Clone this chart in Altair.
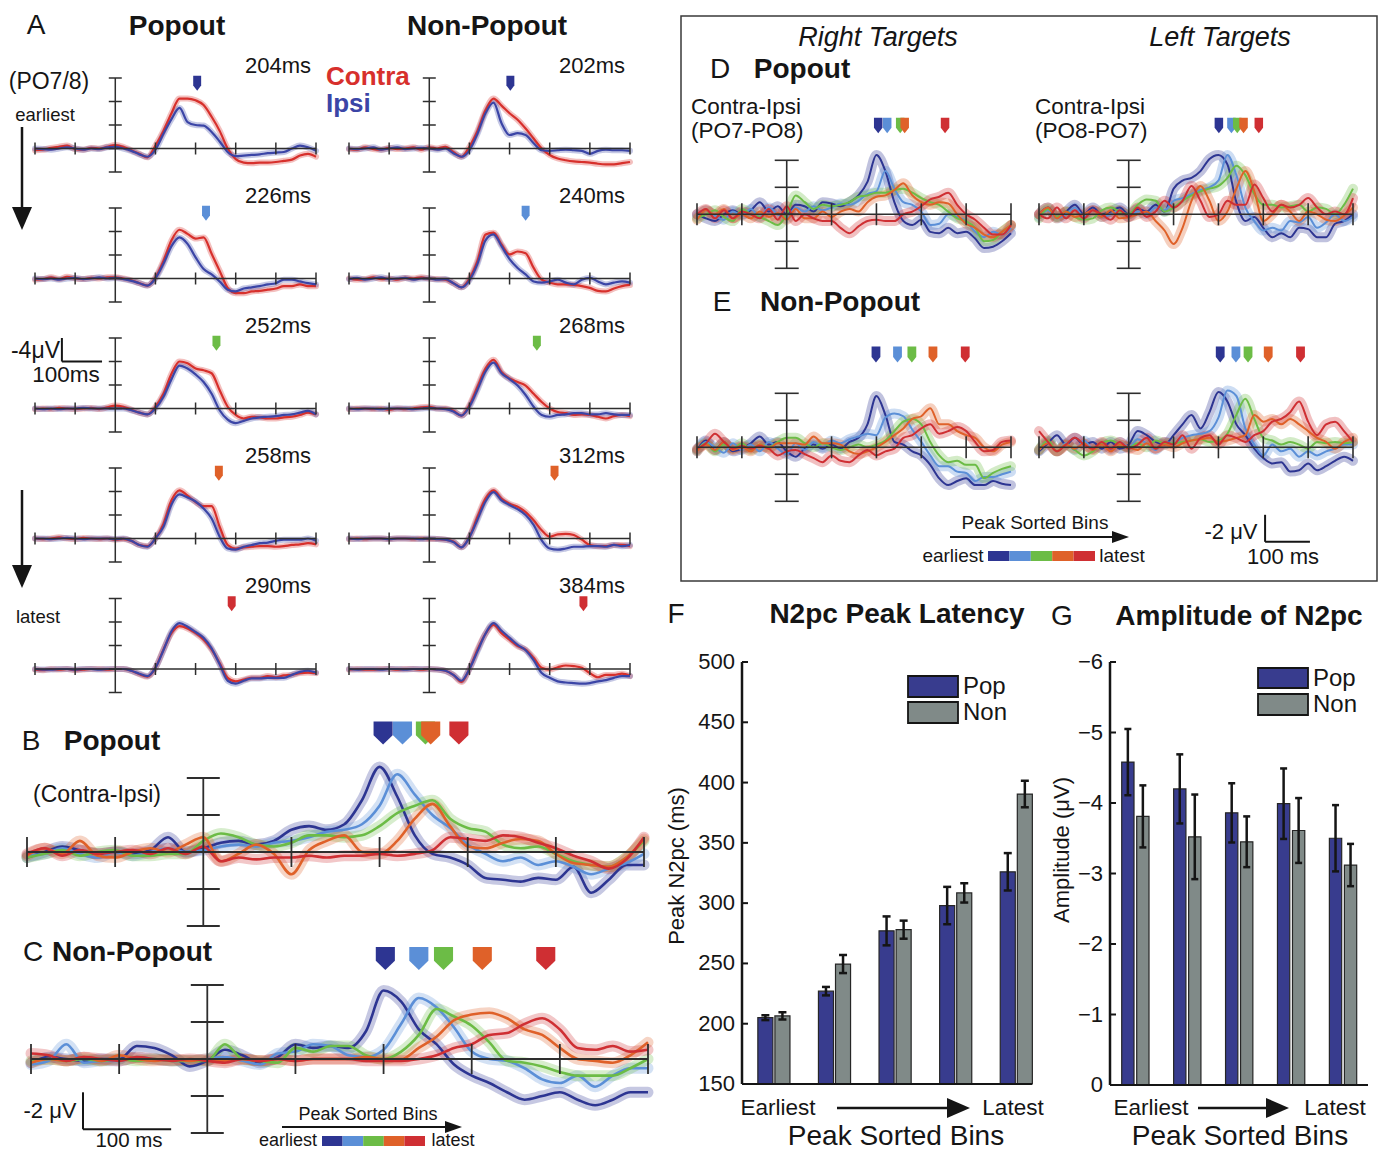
import altair as alt
import pandas as pd

# ---------------- data ----------------
TIME = [-200, -180, -160, -140, -120, -100, -80, -60, -40, -20, 0, 20, 40, 60, 80, 100, 120, 140,
        160, 180, 200, 220, 240, 260, 280, 300, 320, 340, 360, 380, 400, 420, 440, 460, 480, 500]

A1_POP_CONTRA = [0.3, 0.2, -0.1, -0.3, -0.5, 0.1, 0.2, -0.1, 0.0, -0.3, -0.6, -0.3, 0.3, 0.9, 1.5, -0.5, -3.0, -6.0, -8.5, -8.5, -8.2, -7.4, -5.4, -3.0, 0.0, 1.8, 2.4, 2.5, 2.4, 2.4, 2.3, 2.1, 1.9, 1.2, 0.9, 1.4]
A1_POP_IPSI = [0.0, 0.1, 0.2, 0.0, -0.2, 0.0, 0.2, 0.0, 0.1, -0.2, -0.3, 0.0, 0.4, 1.0, 1.4, 0.2, -2.5, -5.0, -6.9, -4.5, -4.0, -3.9, -2.8, -1.2, 0.6, 1.3, 1.2, 1.1, 1.0, 0.8, 0.7, 0.6, 0.0, -0.5, -0.2, 0.4]
A1_NON_CONTRA = [0.1, 0.2, -0.2, 0.1, 0.2, -0.1, 0.1, 0.0, -0.2, 0.2, -0.2, 0.0, -0.3, 0.6, 1.4, -0.3, -3.0, -6.5, -8.5, -7.3, -6.0, -4.9, -3.4, -1.7, 0.0, 1.1, 1.7, 2.0, 2.2, 2.3, 2.4, 2.6, 2.7, 2.7, 2.5, 2.3]
A1_NON_IPSI = [0.0, 0.1, 0.0, -0.2, 0.2, 0.0, -0.2, 0.1, 0.0, -0.1, 0.0, 0.2, 0.0, 0.8, 1.4, 0.3, -2.5, -6.0, -7.8, -4.3, -2.3, -2.6, -2.3, -0.9, 0.3, 0.4, 0.3, 0.2, 0.3, 0.4, 0.9, 0.4, 0.2, 0.3, 0.3, 0.4]
A2_POP_CONTRA = [0.2, 0.1, -0.2, 0.1, -0.3, 0.0, 0.1, -0.1, 0.0, -0.2, -0.2, 0.0, 0.3, 0.8, 1.2, -0.2, -3.0, -6.5, -8.3, -7.6, -6.8, -7.0, -4.2, -1.3, 1.6, 2.5, 2.5, 2.2, 2.1, 1.9, 1.7, 1.3, 1.3, 1.0, 1.3, 1.3]
A2_POP_IPSI = [0.0, 0.1, 0.0, 0.2, 0.0, -0.1, 0.1, 0.0, -0.2, 0.0, -0.1, 0.1, 0.4, 0.8, 1.2, 0.0, -2.5, -5.5, -7.0, -5.9, -3.6, -1.6, -0.7, 0.5, 1.9, 2.2, 1.7, 1.5, 1.3, 1.0, 0.8, 0.2, 0.2, 0.5, 0.8, 1.0]
A2_NON_CONTRA = [0.0, 0.2, 0.1, -0.2, 0.1, 0.0, 0.2, -0.1, 0.0, -0.2, 0.0, 0.1, 0.2, 0.8, 1.5, 0.0, -3.0, -7.5, -7.8, -5.8, -4.1, -4.6, -4.3, -1.8, 0.2, 0.7, 1.0, 1.0, 1.1, 1.3, 1.6, 2.1, 2.2, 1.7, 1.3, 1.1]
A2_NON_IPSI = [0.1, -0.1, 0.2, 0.0, -0.2, 0.1, 0.0, -0.1, 0.2, 0.0, 0.0, 0.2, 0.1, 0.8, 1.5, 0.3, -2.5, -6.5, -7.5, -5.5, -3.3, -1.8, -0.7, 0.5, 0.7, 0.5, 0.2, 0.7, 1.0, 0.2, -0.1, 0.5, 1.0, 0.7, 0.5, 0.7]
A3_POP_CONTRA = [0.1, 0.0, 0.1, -0.1, 0.0, 0.1, 0.0, -0.1, 0.1, -0.2, -0.5, -0.3, 0.2, 0.7, 1.0, -0.3, -2.5, -5.9, -8.0, -7.7, -6.8, -6.5, -6.0, -3.1, -0.3, 1.1, 1.7, 1.4, 1.5, 1.7, 1.7, 1.5, 1.4, 1.1, 0.7, 1.0]
A3_POP_IPSI = [0.0, 0.1, 0.0, 0.1, 0.0, 0.0, -0.1, 0.0, 0.0, 0.0, 0.0, 0.0, 0.3, 0.7, 1.0, 0.0, -2.0, -5.0, -7.3, -6.8, -5.8, -4.5, -2.5, 0.3, 1.9, 2.5, 2.1, 1.7, 1.5, 1.4, 1.3, 1.1, 1.0, 0.7, 0.4, 1.0]
A3_NON_CONTRA = [0.1, 0.0, 0.0, 0.1, 0.0, 0.2, 0.0, 0.1, 0.0, -0.2, -0.3, 0.0, 0.0, 0.4, 1.2, -0.6, -3.7, -6.8, -8.3, -6.2, -5.1, -4.5, -3.9, -2.5, -1.1, 0.0, 0.6, 0.8, 1.1, 1.0, 1.1, 1.4, 1.7, 1.3, 1.1, 1.3]
A3_NON_IPSI = [0.0, 0.1, 0.0, 0.0, 0.1, 0.0, 0.0, 0.0, 0.1, 0.0, -0.1, 0.0, 0.1, 0.5, 1.2, -0.3, -3.2, -6.3, -7.8, -6.0, -5.0, -3.9, -2.3, -0.3, 1.1, 1.4, 1.1, 1.0, 0.8, 0.8, 1.0, 1.0, 0.8, 1.0, 1.1, 1.1]
A4_POP_CONTRA = [0.0, 0.1, 0.0, -0.2, 0.0, 0.1, -0.1, 0.0, 0.1, 0.0, 0.2, 0.1, 0.4, 1.1, 1.3, 0.0, -2.5, -6.5, -8.2, -7.3, -6.2, -5.5, -5.5, -2.0, 1.1, 1.7, 1.5, 1.4, 1.3, 1.3, 1.4, 1.3, 1.1, 1.0, 0.8, 1.0]
A4_POP_IPSI = [0.0, 0.0, 0.1, 0.0, -0.1, 0.0, 0.1, 0.0, 0.0, 0.0, 0.1, 0.0, 0.4, 1.1, 1.4, 0.0, -2.0, -5.8, -7.5, -7.0, -6.3, -5.1, -3.4, -0.3, 1.7, 1.9, 1.4, 1.1, 0.8, 0.7, 0.4, 0.2, 0.2, 0.2, 0.0, 0.4]
A4_NON_CONTRA = [0.1, 0.0, 0.1, 0.0, 0.0, 0.1, 0.0, 0.0, 0.1, 0.0, 0.1, 0.1, 0.2, 0.5, 1.5, -0.3, -3.7, -6.8, -8.2, -6.8, -5.9, -5.4, -4.5, -3.1, -1.4, -0.3, -0.7, -0.8, -0.6, 0.2, 1.1, 1.3, 1.3, 1.1, 1.1, 1.3]
A4_NON_IPSI = [0.0, 0.1, 0.0, 0.0, 0.0, 0.1, 0.0, 0.0, 0.0, 0.1, 0.0, 0.1, 0.2, 0.6, 1.5, -0.2, -3.2, -6.3, -7.9, -6.5, -5.7, -5.0, -4.0, -2.3, 0.3, 1.7, 1.9, 1.7, 1.4, 1.4, 1.3, 1.3, 1.4, 1.1, 1.3, 1.1]
A5_POP_CONTRA = [0.1, 0.2, 0.0, 0.1, 0.0, 0.2, 0.1, 0.0, 0.0, 0.1, 0.0, 0.0, 0.3, 0.9, 1.3, -0.2, -3.3, -6.1, -7.3, -6.9, -6.1, -5.0, -3.3, -1.0, 1.5, 2.1, 1.8, 1.5, 1.5, 1.2, 1.4, 1.1, 1.0, 0.7, 0.6, 0.7]
A5_POP_IPSI = [0.0, 0.1, 0.1, 0.0, 0.0, 0.1, 0.0, 0.0, 0.1, 0.0, 0.0, 0.0, 0.3, 0.8, 1.2, -0.2, -3.2, -6.4, -7.8, -7.2, -6.3, -5.3, -3.5, -0.8, 2.0, 2.5, 2.0, 1.6, 1.6, 1.5, 1.5, 1.5, 1.0, 0.5, 0.3, 0.6]
A5_NON_CONTRA = [0.1, 0.0, 0.1, 0.1, 0.0, 0.0, 0.1, 0.0, 0.0, 0.1, 0.0, 0.1, 0.3, 1.0, 2.2, 0.0, -3.3, -6.0, -7.5, -6.1, -5.0, -3.9, -3.3, -1.9, -0.2, 0.1, -0.3, -0.6, -0.5, -0.2, 0.7, 1.4, 1.0, 1.0, 0.8, 1.2]
A5_NON_IPSI = [0.0, 0.1, 0.0, 0.0, 0.1, 0.0, 0.0, 0.1, 0.0, 0.0, 0.0, 0.1, 0.3, 1.0, 2.0, 0.0, -3.0, -6.0, -7.8, -6.5, -5.3, -4.1, -3.2, -1.5, 0.7, 1.5, 2.1, 2.3, 2.4, 2.5, 2.4, 2.1, 1.9, 1.5, 1.2, 1.2]

B_BIN1 = [0.3, 0.0, -0.3, -0.1, 0.1, 0.0, 0.1, -0.1, -0.8, 0.0, -0.2, -0.5, -0.6, -0.4, -0.6, -1.2, -1.4, -1.2, -1.5, -2.8, -4.6, -3.0, -0.9, 0.1, 0.3, 0.7, 1.4, 1.5, 1.6, 1.4, 1.5, 0.8, 2.2, 1.5, 0.7, 0.7]
B_BIN2 = [0.2, 0.1, -0.2, 0.1, 0.3, 0.0, 0.2, 0.0, -0.2, 0.0, -0.1, -0.3, -0.4, -0.3, -0.5, -0.6, -0.8, -1.1, -1.2, -1.5, -2.5, -4.2, -3.1, -2.0, -1.3, -0.4, 0.1, 0.5, 0.3, 0.7, 0.5, 0.8, 1.2, 0.9, 0.6, 0.1]
B_BIN3 = [0.3, 0.1, -0.1, 0.2, 0.0, -0.1, 0.2, 0.2, 0.1, 0.1, -0.6, -1.0, -0.8, -0.4, -0.3, -0.5, -0.9, -0.9, -0.8, -0.9, -1.4, -2.1, -2.5, -2.8, -1.8, -1.3, -1.1, -0.4, -0.2, -0.3, 0.1, 0.5, 0.7, 0.8, 0.3, -0.6]
B_BIN4 = [0.2, -0.2, 0.1, -0.6, 0.2, 0.3, 0.0, -0.2, 0.0, -0.4, -0.8, 0.5, 0.1, -0.4, 0.1, 1.2, -0.1, -0.6, -0.9, 0.0, 0.1, -0.6, -1.8, -2.6, -1.4, -0.3, -0.2, -0.5, -0.7, -0.6, 0.1, 0.6, 0.7, 0.8, 0.3, -0.7]
B_BIN5 = [0.1, -0.2, 0.2, -0.1, 0.1, 0.0, -0.1, 0.1, -0.2, 0.1, -0.3, 0.5, 0.3, 0.4, 0.3, 0.3, 0.2, 0.3, 0.2, 0.2, 0.1, 0.2, 0.1, -0.1, -0.8, -0.7, -0.6, -0.9, -0.8, -0.5, -0.2, 0.2, 0.5, 0.9, 0.4, -0.8]

C_BIN1 = [0.2, -0.1, 0.0, 0.1, 0.0, 0.0, -0.7, -0.6, -0.2, 0.4, 0.1, -0.5, -0.2, 0.2, -0.1, -0.8, -0.6, -0.7, -0.6, -1.5, -3.7, -3.1, -1.6, -0.8, 0.3, 0.9, 1.3, 1.8, 2.2, 2.0, 1.8, 2.2, 2.5, 2.2, 1.8, 1.8]
C_BIN2 = [0.3, 0.1, -0.8, 0.2, 0.1, 0.1, -0.1, 0.0, 0.1, 0.1, 0.0, -0.1, 0.1, 0.3, -0.3, -0.4, -0.8, -0.7, -0.2, -0.1, -0.5, -1.9, -3.3, -2.8, -1.7, -0.4, 0.0, 0.1, 0.5, 1.1, 1.3, 0.9, 1.5, 0.9, 0.5, 0.5]
C_BIN3 = [0.1, 0.0, 0.1, 0.0, 0.1, 0.0, 0.1, 0.0, 0.1, 0.1, 0.1, -0.8, 0.0, 0.1, 0.2, -0.6, -0.4, -0.7, -0.7, -0.2, 0.0, -0.4, -1.3, -2.7, -2.3, -1.8, -0.9, 0.1, 0.2, 0.4, 0.7, 0.9, 0.9, 0.9, 0.5, 0.0]
C_BIN4 = [0.2, 0.0, 0.1, -0.1, 0.1, -0.2, 0.0, 0.1, 0.0, 0.1, 0.0, 0.1, 0.0, 0.1, 0.0, 0.1, 0.0, 0.0, 0.0, -0.1, 0.0, 0.0, -0.6, -1.2, -2.1, -2.4, -2.5, -2.2, -1.6, -1.3, -0.6, 0.0, 0.1, 0.2, -0.2, -0.9]
C_BIN5 = [-0.3, -0.2, 0.1, -0.1, 0.0, 0.1, -0.1, 0.0, 0.1, 0.0, 0.1, 0.2, 0.0, 0.1, 0.0, 0.1, 0.0, 0.0, 0.0, 0.1, 0.1, 0.1, 0.0, -0.2, -0.6, -0.8, -1.3, -1.4, -1.9, -2.2, -1.6, -0.6, -0.5, -0.7, -0.4, -0.5]

D_R_BIN1 = [0.0, 0.3, 0.5, 0.0, -0.3, 0.0, -0.3, -0.9, -0.2, -0.6, 0.0, -0.7, -0.6, -0.2, -0.9, -0.8, -0.6, -0.9, -1.4, -2.4, -4.4, -3.2, -0.9, 0.5, 0.8, 0.4, 1.3, 1.4, 1.0, 1.4, 1.3, 1.8, 2.5, 2.4, 2.0, 1.4]
D_R_BIN2 = [0.2, -0.3, 0.1, 0.4, -0.2, 0.1, -0.4, 0.2, -0.5, 0.0, 0.3, -0.5, -0.2, -0.6, -0.3, -0.5, -0.8, -0.7, -1.0, -1.5, -1.7, -3.2, -1.9, -0.9, -0.7, -0.2, 0.8, 0.7, 0.0, 0.2, 0.5, 1.3, 1.7, 1.3, 1.5, 1.0]
D_R_BIN3 = [0.3, 0.0, -0.3, 0.2, 0.5, -0.4, 0.0, 0.2, 0.5, 0.8, 0.0, -1.4, -0.9, -0.4, -0.7, -0.6, -0.7, -0.9, -1.3, -1.4, -1.6, -1.6, -1.8, -1.9, -1.6, -1.2, -0.9, -0.7, -0.2, 0.3, 0.5, 1.0, 2.0, 1.9, 1.3, 0.8]
D_R_BIN4 = [0.4, -0.3, 0.0, -0.4, 0.3, 0.0, 0.3, -0.2, 0.2, -0.1, 0.4, -0.4, 0.3, 0.3, -0.2, 0.2, -0.2, -0.4, -0.2, -0.9, -1.3, -1.4, -1.8, -2.3, -1.4, -0.9, -0.7, -0.9, -0.8, 0.0, 0.7, 1.0, 1.5, 1.7, 1.3, 0.8]
D_R_BIN5 = [0.0, -0.4, 0.3, -0.3, 0.3, -0.2, 0.0, 0.3, -0.4, 0.4, -0.6, 0.5, 0.0, 0.3, 0.5, 0.5, 1.0, 1.4, 0.9, 0.5, 0.4, 0.5, 0.5, 0.0, -0.2, -0.6, -1.1, -1.3, -1.6, -0.7, 0.0, 0.4, 1.0, 1.5, 1.5, 0.8]

D_L_BIN1 = [0.0, -0.5, 0.2, -0.2, -0.7, 0.0, -0.5, 0.0, -0.2, -0.5, 0.0, -0.4, -0.2, -0.7, -0.2, -1.9, -2.5, -2.7, -3.2, -4.1, -4.4, -3.7, -0.9, 0.5, 0.2, 1.0, 1.7, 1.4, 1.7, 1.0, 1.1, 1.7, 1.7, 0.7, 0.5, 0.0]
D_L_BIN2 = [0.2, -0.3, 0.3, 0.0, -0.5, 0.2, -0.3, 0.2, 0.0, -0.3, 0.2, -0.2, 0.0, -0.5, -0.3, -1.0, -1.2, -1.5, -1.8, -2.0, -2.5, -4.4, -2.9, -0.5, 0.5, 1.2, 1.0, 1.2, 0.5, 0.6, 0.2, 1.0, 0.6, 0.0, 0.5, 0.2]
D_L_BIN3 = [0.3, -0.4, 0.2, -0.2, 0.2, 0.4, 0.3, -0.3, -0.5, -0.2, 0.0, -0.7, -1.1, -1.0, -0.2, -0.5, -1.0, -1.4, -1.7, -1.9, -2.1, -2.7, -3.6, -2.9, -1.5, -0.7, -0.7, -0.5, -0.6, -0.7, -0.2, -0.5, -0.4, 0.0, -0.7, -1.9]
D_L_BIN4 = [0.0, -0.5, 0.3, -0.2, 0.2, 0.0, -0.3, 0.2, -0.3, 0.3, 0.2, 0.0, -0.2, 0.5, 1.2, 2.2, 1.0, -1.0, -2.1, -1.0, 0.5, -0.2, -1.9, -3.2, -1.7, 0.5, 0.0, -0.7, -0.2, 0.5, -0.2, 0.0, 0.4, 0.5, 0.1, -0.5]
D_L_BIN5 = [0.0, 0.3, -0.5, 0.3, -0.3, 0.3, -0.3, 0.0, 0.4, -0.3, 0.2, -0.5, 0.2, -0.2, -1.0, -0.5, -1.0, -2.1, -1.0, 0.2, 0.0, -1.0, -0.7, -0.7, -2.2, -1.2, -0.2, -0.7, -0.5, -0.7, -1.2, -0.5, 0.0, -0.2, 0.0, -1.2]

E_R_BIN1 = [0.2, -0.5, 0.2, -0.4, 0.3, 0.1, -0.3, -0.8, -0.2, -0.4, 0.3, 0.7, 0.1, -0.2, 0.1, -0.2, 0.1, -0.4, -0.7, -1.7, -3.8, -2.4, -0.4, -0.2, 0.3, 0.6, 1.3, 2.3, 2.8, 2.5, 2.3, 2.8, 2.8, 2.5, 2.7, 2.8]
E_R_BIN2 = [0.3, -0.4, 0.0, 0.4, -0.3, 0.2, -0.2, 0.3, -0.4, 0.1, 0.5, -0.3, 0.2, -0.4, 0.0, -0.5, -0.3, -0.6, -0.8, -1.0, -0.9, -2.2, -2.5, -2.3, -1.3, -0.4, 0.6, 1.4, 1.4, 1.8, 1.9, 2.5, 2.2, 2.2, 2.0, 1.8]
E_R_BIN3 = [0.2, -0.3, 0.3, -0.2, 0.1, -0.3, 0.2, -0.2, 0.0, -0.4, -0.7, -0.7, -0.3, 0.0, -0.3, 0.0, 0.2, 0.0, -0.2, 0.0, -0.2, -0.5, -1.2, -1.9, -2.1, -1.7, -0.4, 0.6, 1.1, 1.0, 1.3, 1.3, 2.3, 1.9, 1.6, 1.4]
E_R_BIN4 = [0.3, -0.2, 0.2, -0.4, 0.2, 0.0, 0.3, -0.2, 0.1, -0.3, -0.3, -0.3, -0.2, -0.8, -0.3, -0.3, -0.2, 0.3, 0.5, 0.3, 0.0, -0.4, -0.9, -1.4, -2.1, -2.3, -2.9, -1.7, -1.7, -1.2, -0.9, -0.7, 0.0, 0.3, -0.2, -0.4]
E_R_BIN5 = [0.1, -0.3, -1.0, -0.4, 0.1, -0.1, 0.1, -0.1, 0.1, 0.6, 0.3, 0.2, 0.5, 0.8, 1.1, 0.6, 1.0, 1.1, 0.6, 0.2, 0.6, 0.3, 0.1, -0.7, -0.9, -1.4, -1.7, -1.0, -1.2, -1.5, -1.2, -0.4, 0.3, 0.2, -0.4, -0.5]

E_L_BIN1 = [0.3, -0.3, -0.9, -0.2, -0.7, -0.2, -0.4, 0.1, -0.4, 0.1, -0.2, -1.2, -0.9, -0.4, -0.2, -0.9, -1.7, -2.4, -1.4, -2.6, -4.1, -3.4, -1.7, -0.9, 0.1, 0.8, 1.2, 1.1, 1.8, 1.7, 1.2, 1.7, 1.4, 1.0, 0.7, 1.0]
E_L_BIN2 = [0.2, -0.4, 0.3, -0.3, 0.2, -0.5, 0.1, -0.3, 0.2, -0.4, 0.0, -0.6, -0.3, 0.2, -0.4, -0.3, -0.7, -0.9, -1.0, -1.2, -2.2, -4.2, -3.8, -1.4, -0.2, 0.6, -0.2, 0.3, 0.1, 0.7, 0.3, 0.6, 0.3, 0.1, -0.2, -0.2]
E_L_BIN3 = [0.2, -0.5, 0.3, -0.2, 0.2, 0.6, 0.3, -0.3, -0.5, -0.2, 0.0, -0.3, 0.0, -0.5, -0.3, -0.3, -0.4, -0.5, -0.6, -0.4, -0.5, -1.0, -2.4, -3.6, -2.1, -0.7, -0.5, -0.2, -0.4, -0.2, 0.1, -0.4, -0.3, -0.4, -0.3, -0.4]
E_L_BIN4 = [0.2, -0.3, 0.3, -0.2, 0.1, -0.3, 0.2, -0.2, 0.3, -0.2, 0.0, 0.2, -0.3, 0.1, -0.2, 0.0, -0.3, -0.5, -0.6, -0.7, -0.4, -0.5, -0.7, -0.9, -2.4, -1.9, -2.1, -1.7, -2.1, -1.7, -1.2, -0.7, -0.4, 0.1, -0.4, -0.7]
E_L_BIN5 = [-1.2, -0.4, 0.3, -0.2, -0.7, -0.2, 0.1, -0.4, 0.1, -0.4, 0.1, -0.2, -0.7, 0.1, -0.4, -0.2, -0.9, 0.1, -0.7, -0.9, -0.2, -0.9, -0.7, -0.4, -0.9, -1.2, -1.9, -2.1, -2.6, -3.4, -1.9, -0.9, -1.7, -1.9, -1.2, -0.4]

A_LAT_POP = [204, 226, 252, 258, 290]
A_LAT_NON = [202, 240, 268, 312, 384]
B_LAT = [204, 226, 252, 258, 290]
C_LAT = [202, 240, 268, 312, 384]
DR_LAT = [204, 224, 253, 263, 353]
DL_LAT = [201, 229, 242, 256, 290]
ER_LAT = [199, 247, 279, 326, 398]
EL_LAT = [204, 239, 266, 311, 383]

F_POP = [205, 227, 277, 298, 326]
F_POP_ERR = [2, 3.5, 12, 15.5, 15.5]
F_NON = [206.5, 249.5, 278, 308.5, 390.5]
F_NON_ERR = [3, 7.5, 7.5, 8, 11]
G_POP = [-4.58, -4.20, -3.86, -3.99, -3.50]
G_POP_ERR = [0.47, 0.49, 0.42, 0.50, 0.47]
G_NON = [-3.81, -3.52, -3.45, -3.61, -3.12]
G_NON_ERR = [0.44, 0.60, 0.36, 0.46, 0.30]
F_TICKS = [150, 200, 250, 300, 350, 400, 450, 500]
G_TICKS = [-6, -5, -4, -3, -2, -1, 0]

BINS = ["b1", "b2", "b3", "b4", "b5"]
BIN_COLORS = ["#2d3592", "#5b8fd7", "#6cbc46", "#df6129", "#cf2f33"]
CONTRA_C, IPSI_C = "#d7302c", "#3b45a6"
POP_C, NON_C = "#383c8e", "#808a88"

# ---------------- helpers ----------------
OX, OY = 8, 8
FONT = "Liberation Sans"
INK = "#151515"
AXC = "#2e2e2e"
XTICKS = [-200, -100, 100, 200, 300, 400, 500]
CSCALE = alt.Scale(domain=["Contra", "Ipsi"] + BINS + ["Pop", "Non"],
                   range=[CONTRA_C, IPSI_C] + BIN_COLORS + [POP_C, NON_C])
ONE = pd.DataFrame({"k": [0]})

PENT_A = "M-0.53,-1L0.53,-1L0.53,0.3L0,1L-0.53,0.3Z"
PENT_B = "M-0.83,-1L0.83,-1L0.83,0.2L0,1L-0.83,0.2Z"
PENT_D = "M-0.55,-1L0.55,-1L0.55,0.3L0,1L-0.55,0.3Z"
HEAD_DOWN = "M-0.87,-1L0.87,-1L0,1Z"
HEAD_R_BIG = "M-1,-0.87L1,0L-1,0.87Z"
HEAD_R_SMALL = "M-1,-0.7L1,0L-1,0.7Z"


def col(field="s"):
    return alt.Color(f"{field}:N", scale=CSCALE, legend=None)


def lin(domain, r0, r1):
    return alt.Scale(domain=domain, range=[r0, r1], nice=False, zero=False)


def T(text, x, y, size, weight="normal", style="normal", align="center", color=INK, angle=0):
    return alt.Chart(ONE).mark_text(
        text=text, font=FONT, fontSize=size, fontWeight=weight, fontStyle=style,
        align=align, baseline="middle", color=color, angle=angle
    ).encode(x=alt.value(x - OX), y=alt.value(y - OY))


def hrule(x0, x1, y, w=2.0):
    return alt.Chart(ONE).mark_rule(color=INK, strokeWidth=w).encode(
        x=alt.value(x0 - OX), x2=alt.value(x1 - OX), y=alt.value(y - OY))


def head(x, y, shape, size):
    return alt.Chart(ONE).mark_point(shape=shape, filled=True, size=size, opacity=1,
                                     color=INK, strokeWidth=0).encode(
        x=alt.value(x - OX), y=alt.value(y - OY))


def harrow(x0, x1, y, hl, shape, w=2.0):
    return [hrule(x0, x1 - hl * 0.7, y, w), head(x1 - hl / 2, y, shape, hl * hl)]


def varrow(x, y0, y1, hl, shape, w=2.5):
    r = alt.Chart(ONE).mark_rule(color=INK, strokeWidth=w).encode(
        x=alt.value(x - OX), y=alt.value(y0 - OY), y2=alt.value(y1 - hl * 0.7 - OY))
    return [r, head(x, y1 - hl / 2, shape, hl * hl)]


def erp(series, x0, x1, ytop, ybot, vtop, vbot, yticks, xtl, ytl, band_w, line_w, ax_w,
        markers=None, label=None, segments=None, band_op=0.3):
    xs = lin([-200, 500], x0 - OX, x1 - OX)
    ys = lin([vtop, vbot], ytop - OY, ybot - OY)

    def X(f):
        return alt.X(f"{f}:Q", scale=xs, axis=None)

    def Y(f):
        return alt.Y(f"{f}:Q", scale=ys, axis=None)

    df = pd.DataFrame([{"t": t, "v": v, "s": name}
                       for name, vals in series for t, v in zip(TIME, vals)])
    base = alt.Chart(df)
    enc = dict(x=X("t"), y=Y("v"), color=col(), detail="s:N")
    layers = [
        base.mark_line(strokeWidth=band_w, opacity=band_op, interpolate="monotone",
                       strokeCap="round", strokeJoin="round").encode(**enc),
        base.mark_line(strokeWidth=line_w, interpolate="monotone").encode(**enc),
        alt.Chart(pd.DataFrame({"x": [0], "y": [vtop], "y2": [vbot]})).mark_rule(
            color=AXC, strokeWidth=ax_w).encode(x=X("x"), y=Y("y"), y2=alt.Y2("y2")),
        alt.Chart(pd.DataFrame({"x": [-200], "x2": [500], "y": [0]})).mark_rule(
            color=AXC, strokeWidth=ax_w).encode(x=X("x"), x2=alt.X2("x2"), y=Y("y")),
        alt.Chart(pd.DataFrame({"x": [0] * len(yticks), "y": yticks})).mark_tick(
            orient="horizontal", size=ytl, thickness=ax_w, color=AXC, opacity=1).encode(x=X("x"), y=Y("y")),
        alt.Chart(pd.DataFrame({"x": XTICKS, "y": [0] * len(XTICKS)})).mark_tick(
            orient="vertical", size=xtl, thickness=ax_w, color=AXC, opacity=1).encode(x=X("x"), y=Y("y")),
    ]
    if markers:
        lat, bins, mv, shape, msize = markers
        layers.append(alt.Chart(pd.DataFrame({"t": lat, "s": bins, "v": [mv] * len(lat)})).mark_point(
            shape=shape, filled=True, size=msize, opacity=1, strokeWidth=0).encode(
            x=X("t"), y=Y("v"), color=col()))
    if label:
        txt, lv = label
        layers.append(alt.Chart(pd.DataFrame({"t": [500], "v": [lv], "txt": [txt]})).mark_text(
            font=FONT, fontSize=22, align="right", baseline="middle", dx=-5, color=INK).encode(
            x=X("t"), y=Y("v"), text="txt:N"))
    if segments:
        layers.append(alt.Chart(pd.DataFrame(segments)).mark_rule(color=INK, strokeWidth=2).encode(
            x=X("x"), x2=alt.X2("x2"), y=Y("y"), y2=alt.Y2("y2")))
    return alt.layer(*layers)


def colorbar(x0, x1, y0, y1):
    xs = lin([0, 5], x0 - OX, x1 - OX)
    df = pd.DataFrame({"i": list(range(5)), "s": BINS})
    return alt.Chart(df).transform_calculate(j="datum.i + 1").mark_rect().encode(
        x=alt.X("i:Q", scale=xs, axis=None), x2=alt.X2("j"),
        y=alt.value(y0 - OY), y2=alt.value(y1 - OY), color=col())


def bar_panel(pop, perr, non, nerr, dom, y0px, y1px, bx0, bx1, pin, pout, opin,
              axis_x, base_x1, base_val, ticks, labels, cap):
    rows = []
    for i in range(5):
        rows.append({"bin": str(i + 1), "cond": "Pop", "val": pop[i], "err": perr[i]})
        rows.append({"bin": str(i + 1), "cond": "Non", "val": non[i], "err": nerr[i]})
    df = pd.DataFrame(rows)
    xs = alt.Scale(type="band", domain=["1", "2", "3", "4", "5"], range=[bx0 - OX, bx1 - OX],
                   paddingInner=pin, paddingOuter=pout)
    xo = alt.Scale(type="band", domain=["Pop", "Non"], paddingInner=opin, paddingOuter=0)
    ys = lin(dom, y0px - OY, y1px - OY)
    X = alt.X("bin:N", scale=xs, axis=None)
    XO = alt.XOffset("cond:N", scale=xo)

    def Y(f):
        return alt.Y(f"{f}:Q", scale=ys, axis=None)

    base = alt.Chart(df).transform_calculate(lo="datum.val - datum.err", hi="datum.val + datum.err")
    layers = [
        base.mark_bar(stroke="#262626", strokeWidth=1.2).encode(
            x=X, xOffset=XO, y=Y("val"), y2=alt.datum(base_val), color=col("cond")),
        base.mark_rule(color=INK, strokeWidth=2.5).encode(x=X, xOffset=XO, y=Y("lo"), y2=alt.Y2("hi")),
        base.mark_tick(orient="horizontal", size=cap, thickness=2.5, color=INK, opacity=1).encode(
            x=X, xOffset=XO, y=Y("lo")),
        base.mark_tick(orient="horizontal", size=cap, thickness=2.5, color=INK, opacity=1).encode(
            x=X, xOffset=XO, y=Y("hi")),
        alt.Chart(pd.DataFrame({"a": [dom[0]], "b": [dom[1]]})).mark_rule(color=INK, strokeWidth=2.5).encode(
            x=alt.value(axis_x - OX), y=Y("a"), y2=alt.Y2("b")),
        alt.Chart(pd.DataFrame({"a": [base_val]})).mark_rule(color=INK, strokeWidth=2).encode(
            x=alt.value(axis_x - OX), x2=alt.value(base_x1 - OX), y=Y("a")),
        alt.Chart(pd.DataFrame({"v": ticks})).mark_rule(color=INK, strokeWidth=2).encode(
            x=alt.value(axis_x - OX), x2=alt.value(axis_x + 6 - OX), y=Y("v")),
        alt.Chart(pd.DataFrame({"v": ticks, "lab": labels})).mark_text(
            font=FONT, fontSize=22, align="right", baseline="middle", color=INK).encode(
            x=alt.value(axis_x - 7 - OX), y=Y("v"), text="lab:N"),
    ]
    return alt.layer(*layers)


def legend_box(x0, x1, y0, y1, fill):
    return alt.Chart(ONE).mark_rect(fill=fill, stroke=INK, strokeWidth=1.8).encode(
        x=alt.value(x0 - OX), x2=alt.value(x1 - OX), y=alt.value(y0 - OY), y2=alt.value(y1 - OY))


items = []

# ---------------- panel A ----------------
A_BASE = [148.5, 278.5, 408.5, 538.5, 669]
A_SETS = [
    (A1_POP_CONTRA, A1_POP_IPSI, A1_NON_CONTRA, A1_NON_IPSI),
    (A2_POP_CONTRA, A2_POP_IPSI, A2_NON_CONTRA, A2_NON_IPSI),
    (A3_POP_CONTRA, A3_POP_IPSI, A3_NON_CONTRA, A3_NON_IPSI),
    (A4_POP_CONTRA, A4_POP_IPSI, A4_NON_CONTRA, A4_NON_IPSI),
    (A5_POP_CONTRA, A5_POP_IPSI, A5_NON_CONTRA, A5_NON_IPSI),
]
for i, (pc, pi, nc, ni) in enumerate(A_SETS):
    b = A_BASE[i]
    for (x0, x1, c, ip, lat, seg) in [
        (35, 316, pc, pi, A_LAT_POP[i],
         [{"x": -133, "x2": -133, "y": -12, "y2": -8}, {"x": -133, "x2": -33, "y": -8, "y2": -8}] if i == 2 else None),
        (349, 630, nc, ni, A_LAT_NON[i], None),
    ]:
        items.append(erp([("Contra", c), ("Ipsi", ip)], x0, x1, b - 70.5, b + 23.5, -12, 4,
                         [-12, -8, -4, 0, 4], 12, 13, 6, 2.2, 1.5,
                         markers=([lat], [BINS[i]], -11.1, PENT_A, 225),
                         label=(f"{lat}ms", -14.1), segments=seg))

items += [
    T("A", 36, 26, 28), T("Popout", 177, 27, 28, "bold"), T("Non-Popout", 487, 27, 28, "bold"),
    T("(PO7/8)", 49, 82, 23), T("earliest", 45, 115, 18.5), T("latest", 38, 617, 18.5),
    T("-4μV", 60, 351, 23, align="right"), T("100ms", 66, 375, 22.5),
    T("Contra", 326, 77, 26, "bold", align="left", color=CONTRA_C),
    T("Ipsi", 326, 104, 26, "bold", align="left", color=IPSI_C),
]
items += varrow(22, 127, 230, 23, HEAD_DOWN)
items += varrow(22, 490, 588, 23, HEAD_DOWN)

# ---------------- panels B, C ----------------
B_SER = list(zip(BINS, [B_BIN1, B_BIN2, B_BIN3, B_BIN4, B_BIN5]))
C_SER = list(zip(BINS, [C_BIN1, C_BIN2, C_BIN3, C_BIN4, C_BIN5]))
items.append(erp(B_SER, 27, 644, 778, 926, -4, 4, [-4, -2, 0, 2, 4], 30, 33, 11, 2.6, 1.8,
                 markers=(B_LAT, BINS, -6.43, PENT_B, 529), band_op=0.27))
items.append(erp(C_SER, 31, 648, 985, 1133, -4, 4, [-4, -2, 0, 2, 4], 30, 33, 11, 2.6, 1.8,
                 markers=(C_LAT, BINS, -5.43, PENT_B, 529), band_op=0.27,
                 segments=[{"x": -141, "x2": -141, "y": 1.8, "y2": 3.8},
                           {"x": -141, "x2": -41, "y": 3.8, "y2": 3.8}]))
items += [
    T("B", 31, 742, 28), T("Popout", 112, 742, 28, "bold"), T("(Contra-Ipsi)", 97, 795, 23),
    T("C", 33, 953, 28), T("Non-Popout", 132, 953, 28, "bold"),
    T("-2 μV", 50, 1111, 22), T("100 ms", 129, 1141, 20.5),
    T("Peak Sorted Bins", 368, 1115, 18), T("earliest", 288, 1141, 18), T("latest", 453, 1141, 18),
    colorbar(322, 425, 1136, 1146),
]
items += harrow(282, 462, 1127, 17, HEAD_R_SMALL)

# ---------------- panels D, E ----------------
DR = list(zip(BINS, [D_R_BIN1, D_R_BIN2, D_R_BIN3, D_R_BIN4, D_R_BIN5]))
DL = list(zip(BINS, [D_L_BIN1, D_L_BIN2, D_L_BIN3, D_L_BIN4, D_L_BIN5]))
ER = list(zip(BINS, [E_R_BIN1, E_R_BIN2, E_R_BIN3, E_R_BIN4, E_R_BIN5]))
EL = list(zip(BINS, [E_L_BIN1, E_L_BIN2, E_L_BIN3, E_L_BIN4, E_L_BIN5]))
YT = [-4, -2, 0, 2, 4]
items.append(erp(DR, 697, 1011, 160.3, 268.3, -4, 4, YT, 22, 24, 10, 2.0, 1.6,
                 markers=(DR_LAT, BINS, -6.58, PENT_D, 240)))
items.append(erp(DL, 1039, 1353, 160.3, 268.3, -4, 4, YT, 22, 24, 10, 2.0, 1.6,
                 markers=(DL_LAT, BINS, -6.58, PENT_D, 240)))
items.append(erp(ER, 697, 1011, 393.3, 501.3, -4, 4, YT, 22, 24, 10, 2.0, 1.6,
                 markers=(ER_LAT, BINS, -6.87, PENT_D, 256)))
items.append(erp(EL, 1039, 1353, 393.3, 501.3, -4, 4, YT, 22, 24, 10, 2.0, 1.6,
                 markers=(EL_LAT, BINS, -6.87, PENT_D, 256),
                 segments=[{"x": 304, "x2": 304, "y": 5, "y2": 7},
                           {"x": 304, "x2": 404, "y": 7, "y2": 7}]))
items += [
    alt.Chart(ONE).mark_rect(fillOpacity=0, stroke="#3a3a3a", strokeWidth=1.5).encode(
        x=alt.value(681 - OX), x2=alt.value(1377 - OX), y=alt.value(16 - OY), y2=alt.value(581 - OY)),
    T("Right Targets", 878, 38, 27, style="italic"), T("Left Targets", 1220, 38, 27, style="italic"),
    T("D", 720, 70, 28), T("Popout", 802, 70, 28, "bold"),
    T("Contra-Ipsi", 691, 107, 22.5, align="left"), T("(PO7-PO8)", 691, 131, 22.5, align="left"),
    T("Contra-Ipsi", 1035, 107, 22.5, align="left"), T("(PO8-PO7)", 1035, 131, 22.5, align="left"),
    T("E", 722, 303, 28), T("Non-Popout", 840, 303, 28, "bold"),
    T("Peak Sorted Bins", 1035, 523, 19), T("earliest", 953, 556, 19), T("latest", 1122, 556, 19),
    colorbar(988, 1095, 551, 561),
    T("-2 μV", 1231, 532, 22), T("100 ms", 1283, 557, 22),
]
items += harrow(950, 1129, 537, 17, HEAD_R_SMALL)

# ---------------- panel F ----------------
items.append(bar_panel(F_POP, F_POP_ERR, F_NON, F_NON_ERR, [150, 500], 1084, 662,
                       743.6, 1046.6, 0.47, 0.235, 0.118, 742, 1032, 150,
                       F_TICKS, [str(v) for v in F_TICKS], 8))
items += [
    T("F", 676, 615, 28), T("N2pc Peak Latency", 897, 615, 28, "bold"),
    T("Peak N2pc (ms)", 677, 866, 22, angle=270),
    legend_box(908, 958, 676, 697, POP_C), legend_box(908, 958, 702, 723, NON_C),
    T("Pop", 963, 687, 24, align="left"), T("Non", 963, 713, 24, align="left"),
    T("Earliest", 778, 1108, 22.5), T("Latest", 1013, 1108, 22.5),
    T("Peak Sorted Bins", 896, 1137, 28),
]
items += harrow(837, 970, 1108, 23, HEAD_R_BIG, 2.5)

# ---------------- panel G ----------------
items.append(bar_panel(G_POP, G_POP_ERR, G_NON, G_NON_ERR, [-6, 0], 662, 1085,
                       1109.4, 1369, 0.474, 0.237, 0.18, 1110, 1368, 0,
                       G_TICKS, [str(v).replace("-", "\u2212") for v in G_TICKS], 7))
items += [
    T("G", 1062, 617, 28), T("Amplitude of N2pc", 1239, 617, 28, "bold"),
    T("Amplitude (μV)", 1062, 850, 22, angle=270),
    legend_box(1258, 1308, 668, 688, POP_C), legend_box(1258, 1308, 694, 715, NON_C),
    T("Pop", 1313, 679, 24, align="left"), T("Non", 1313, 705, 24, align="left"),
    T("Earliest", 1151, 1108, 22.5), T("Latest", 1335, 1108, 22.5),
    T("Peak Sorted Bins", 1240, 1137, 28),
]
items += harrow(1198, 1289, 1108, 23, HEAD_R_BIG, 2.5)

chart = alt.layer(*items).resolve_scale(
    x="independent", y="independent", xOffset="independent"
).properties(
    width=1370, height=1145, padding=0, autosize=alt.AutoSizeParams(type="none")
).configure_view(strokeWidth=0)

chart.save("out.html", embed_options={"renderer": "svg", "actions": False})
